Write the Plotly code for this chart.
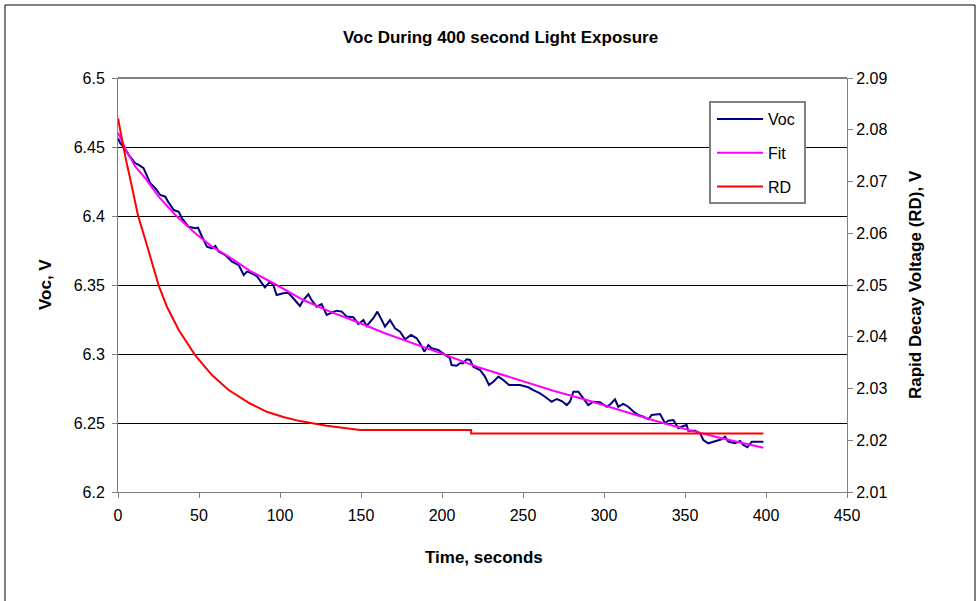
import plotly.graph_objects as go

# ---- data ----
voc_t = [0, 1.4, 3.5, 6.6, 10.7, 12.8, 15.8, 17.9, 19.9, 23,
         26.1, 29.2, 30.9, 34.4, 37.5, 39.5, 43.6, 47.7, 49.4, 51.9,
         54.9, 58, 60.1, 62.1, 66.2, 70.4, 74.5, 77.6, 79.6, 81.5,
         85.6, 90.7, 93.8, 95.9, 97.9, 102, 105.1, 108.2, 111.3, 112.3,
         114.4, 117.5, 119.5, 122.6, 125.7, 128.8, 131.9, 135, 138.1, 141.2,
         145.3, 148.4, 151.5, 153.5, 157.6, 160.1, 162.8, 164.8, 167.9, 171,
         174.1, 177.2, 180.9, 184.4, 186.4, 189.1, 191.6, 193.6, 197.7, 200.8,
         204.9, 205.9, 209, 211.1, 213.1, 215.2, 217.3, 219.3, 223.5, 226.5,
         229, 231.7, 234.8, 237.8, 241.4, 248.1, 253.3, 256.4, 260.5, 263.6,
         267.7, 270.8, 273.9, 277, 279, 281.1, 284.2, 287.2, 290.3, 293.4,
         297.5, 301.7, 304.1, 306.8, 308.8, 311.9, 315, 318.1, 321.2, 324.3,
         327.4, 329.4, 334.6, 337.7, 339.7, 342.8, 345.9, 349, 351, 352,
         356.2, 359.3, 361.3, 364.4, 368.5, 372.6, 374.7, 376.7, 380.9, 384,
         386, 388.5, 391.2, 398.4]
voc_v = [6.4563, 6.4527, 6.45, 6.4442, 6.4382, 6.437, 6.4346, 6.429, 6.4237, 6.4201,
         6.4152, 6.414, 6.4104, 6.4043, 6.4031, 6.3983, 6.3922, 6.3911, 6.3915, 6.385,
         6.3778, 6.3766, 6.3783, 6.3742, 6.3717, 6.3669, 6.3645, 6.3572, 6.3597, 6.359,
         6.3565, 6.3483, 6.3524, 6.35, 6.3428, 6.344, 6.3444, 6.3404, 6.3367, 6.3348,
         6.3391, 6.3433, 6.3391, 6.3343, 6.3362, 6.3283, 6.33, 6.3314, 6.3307, 6.3271,
         6.3266, 6.3217, 6.3246, 6.3203, 6.3259, 6.3307, 6.3246, 6.3198, 6.3246, 6.3186,
         6.3162, 6.3106, 6.3138, 6.3114, 6.3077, 6.3017, 6.3065, 6.3041, 6.3029, 6.3005,
         6.2969, 6.292, 6.2915, 6.2933, 6.2933, 6.2962, 6.2957, 6.2908, 6.2884, 6.2836,
         6.2775, 6.2799, 6.2836, 6.2812, 6.2775, 6.2775, 6.2759, 6.2739, 6.2715, 6.269,
         6.2654, 6.2674, 6.2659, 6.263, 6.2654, 6.2727, 6.2727, 6.2679, 6.263, 6.2654,
         6.265, 6.2618, 6.2638, 6.2672, 6.2618, 6.2638, 6.2618, 6.2583, 6.2558, 6.2546,
         6.2527, 6.2558, 6.2565, 6.2498, 6.2517, 6.2522, 6.2462, 6.2478, 6.2486, 6.2444,
         6.2444, 6.2425, 6.2377, 6.2353, 6.237, 6.2382, 6.2401, 6.2365, 6.2353, 6.237,
         6.2341, 6.2324, 6.2365, 6.2365]

fit_t = [0, 4.5, 10.7, 16.9, 25.1, 35.4, 47.7, 58, 68.3, 81.5, 97.9, 114.4, 130.9,
         147.3, 164.8, 185.4, 202.9, 222.4, 248.1, 268.7, 289.3, 309.9, 331.5, 352,
         372.6, 398.4]
fit_v = [6.4604, 6.449, 6.4357, 6.4273, 6.414, 6.4007, 6.3875, 6.3778, 6.3705, 6.3603,
         6.35, 6.3391, 6.3307, 6.3234, 6.315, 6.3065, 6.299, 6.2904, 6.281, 6.2734,
         6.2667, 6.2594, 6.2516, 6.245, 6.2389, 6.2321]

rd_t = [0, 4.5, 8.6, 12.3, 16.9, 21, 25.1, 30.2, 37.5, 47.7, 58, 68.3, 81.5, 91.8,
        102, 112.3, 128.8, 149.4, 218, 218, 398.4]
rd_v = [2.0822, 2.0748, 2.069, 2.0635, 2.0587, 2.0545, 2.0499, 2.0458, 2.0413, 2.0364,
        2.0326, 2.0297, 2.0271, 2.0255, 2.0245, 2.0237, 2.0228, 2.022, 2.022, 2.0213,
        2.0213]

x_ticks = [0, 50, 100, 150, 200, 250, 300, 350, 400, 450]
y_ticks = [6.2, 6.25, 6.3, 6.35, 6.4, 6.45, 6.5]
y_tick_text = ["6.2", "6.25", "6.3", "6.35", "6.4", "6.45", "6.5"]
y2_ticks = [2.01, 2.02, 2.03, 2.04, 2.05, 2.06, 2.07, 2.08, 2.09]

FONT = "Liberation Sans, Arial, sans-serif"
W, H = 980, 601
ML, MR, MT, MB = 118, 133, 78, 109
PW, PH = W - ML - MR, H - MT - MB


def px(x):
    return (x - ML) / PW


def py(y):
    return (H - MB - y) / PH


fig = go.Figure()
fig.add_trace(go.Scatter(x=voc_t, y=voc_v, name="Voc", mode="lines",
                         line=dict(color="#000080", width=2), legendgroup="a"))
fig.add_trace(go.Scatter(x=fit_t, y=fit_v, name="Fit", mode="lines",
                         line=dict(color="#FF00FF", width=2), legendgroup="b"))
fig.add_trace(go.Scatter(x=rd_t, y=rd_v, name="RD", mode="lines", yaxis="y2",
                         line=dict(color="#FF0000", width=2), legendgroup="c"))

fig.update_layout(
    width=W, height=H,
    margin=dict(l=ML, r=MR, t=MT, b=MB),
    paper_bgcolor="white", plot_bgcolor="white",
    font=dict(family=FONT, size=16, color="black"),
    showlegend=True,
    legend=dict(x=px(712), y=py(102), xanchor="left", yanchor="top",
                bgcolor="rgba(0,0,0,0)", borderwidth=0,
                font=dict(family=FONT, size=16, color="black"),
                traceorder="grouped", tracegroupgap=10, itemwidth=46),
    xaxis=dict(range=[0, 450], tickvals=x_ticks, showgrid=False, zeroline=False,
               showline=True, linecolor="#808080", linewidth=1,
               ticks="outside", ticklen=5, tickcolor="#808080",
               ticklabelstandoff=4, tickfont=dict(size=16)),
    yaxis=dict(range=[6.2, 6.5], tickvals=y_ticks, ticktext=y_tick_text,
               showgrid=True, gridcolor="black", gridwidth=1, zeroline=False,
               showline=True, linecolor="#808080", linewidth=1,
               ticks="outside", ticklen=5, tickcolor="#808080",
               ticklabelstandoff=4, tickfont=dict(size=16)),
    yaxis2=dict(range=[2.01, 2.09], tickvals=y2_ticks, overlaying="y", side="right",
                showgrid=False, zeroline=False, showline=True, linecolor="#808080",
                linewidth=1, ticks="outside", ticklen=5, tickcolor="#808080",
                tickformat=".2f", tickfont=dict(size=16)),
    shapes=[
        # outer chart frame
        dict(type="rect", xref="paper", yref="paper",
             x0=px(5), x1=px(975), y0=py(612), y1=py(5),
             line=dict(color="black", width=1), fillcolor="rgba(0,0,0,0)", layer="below"),
        # top border of plot area
        dict(type="line", xref="paper", yref="paper", x0=0, x1=1, y0=1, y1=1,
             line=dict(color="black", width=1), layer="above"),
        # legend box
        dict(type="rect", xref="paper", yref="paper",
             x0=px(710), x1=px(805), y0=py(203), y1=py(102),
             line=dict(color="#808080", width=2), fillcolor="white", layer="above"),
    ],
    annotations=[
        dict(text="<b>Voc During 400 second Light Exposure</b>", xref="paper", yref="paper",
             x=px(500), y=py(37), xanchor="center", yanchor="middle", showarrow=False,
             font=dict(family=FONT, size=17)),
        dict(text="<b>Time, seconds</b>", xref="paper", yref="paper",
             x=px(484), y=py(557), xanchor="center", yanchor="middle", showarrow=False,
             font=dict(family=FONT, size=17)),
        dict(text="<b>Voc, V</b>", xref="paper", yref="paper", textangle=-90,
             x=px(45), y=py(285), xanchor="center", yanchor="middle", showarrow=False,
             font=dict(family=FONT, size=17)),
        dict(text="<b>Rapid Decay Voltage (RD), V</b>", xref="paper", yref="paper",
             textangle=-90, x=px(915), y=py(285), xanchor="center", yanchor="middle",
             showarrow=False, font=dict(family=FONT, size=17)),
    ],
)

fig.write_html("out.html")
